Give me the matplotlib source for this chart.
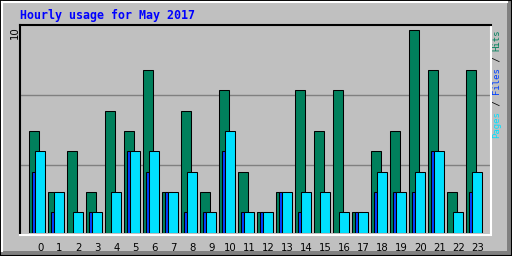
import matplotlib
matplotlib.use("Agg")
import matplotlib.pyplot as plt
from matplotlib.patches import Rectangle
from matplotlib.lines import Line2D

# ── data ──
hours = list(range(24))
hits = [5, 2, 4, 2, 6, 5, 8, 2, 6, 2, 7, 3, 1, 2, 7, 5, 7, 1, 4, 5, 10, 8, 2, 8]
files = [3, 1, 0, 1, 0, 4, 3, 2, 1, 1, 4, 1, 1, 2, 1, 0, 0, 1, 2, 2, 2, 4, 0, 2]
pages = [4, 2, 1, 1, 2, 4, 4, 2, 3, 1, 5, 1, 1, 2, 2, 2, 1, 1, 3, 2, 3, 4, 1, 3]
title = "Hourly usage for May 2017"
ymax_label = "10"

W, H = 512, 256
BG = "#C0C0C0"
C_HITS, C_FILES, C_PAGES = "#00805C", "#0040FF", "#00E0FF"


def fx(px):
    return px / W


def fy(py):
    return 1 - py / H


fig = plt.figure(figsize=(W / 100, H / 100), dpi=100, facecolor=BG)

# 3D style frame around the image
fig.add_artist(Rectangle((fx(507), 0), fx(5), 1, transform=fig.transFigure,
                         facecolor="#808080", edgecolor="none", zorder=-1))
fig.add_artist(Rectangle((0, 0), 1, fy(251), transform=fig.transFigure,
                         facecolor="#808080", edgecolor="none", zorder=-1))
fig.add_artist(Line2D([fx(1.5), fx(507)], [fy(1.5), fy(1.5)], color="white", lw=1.5))
fig.add_artist(Line2D([fx(1.5), fx(1.5)], [fy(1.5), fy(251)], color="white", lw=1.5))
fig.add_artist(Rectangle((0, 0), 1, 1, transform=fig.transFigure,
                         fill=False, edgecolor="black", linewidth=1.5))

# plot area in pixels: x 20..491, y 25..232.5
left, right, top, base = 20, 491, 25, 232.5
ax = fig.add_axes([fx(left), fy(base), fx(right - left), (base - top) / H])
ax.set_facecolor(BG)

unit = 20.3   # pixels per hit
slot = 19.0   # pixels per hour
x0 = 29       # left of hour-0 bar
ax.set_xlim((left - x0) / slot, (right - x0) / slot)
ax.set_ylim(0, (base - top) / unit)

for g in (95, 165):
    ax.axhline((base - g) / unit, color="#808080", lw=1, zorder=0)

lw = 0.75
ax.bar(hours, hits, width=10 / slot, align="edge", color=C_HITS,
       edgecolor="black", linewidth=lw, zorder=2)
ax.bar([h + 3 / slot for h in hours], files, width=3.3 / slot, align="edge",
       color=C_FILES, edgecolor="black", linewidth=lw, zorder=3)
ax.bar([h + 6.3 / slot for h in hours], pages, width=10 / slot, align="edge",
       color=C_PAGES, edgecolor="black", linewidth=lw, zorder=4)

ax.set_xticks([h + 11.5 / slot for h in hours])
ax.set_xticklabels([str(h) for h in hours])
ax.tick_params(axis="x", length=0, pad=6, labelsize=7.3)
ax.set_yticks([])

ax.spines["left"].set_color("black")
ax.spines["top"].set_color("black")
ax.spines["right"].set_color("white")
ax.spines["bottom"].set_color("white")
for s in ax.spines.values():
    s.set_linewidth(1.5)
ax.spines["bottom"].set_position(("outward", 1.5))

# title
fig.text(fx(20), fy(15.5), title, color="#0000FF", fontsize=8.4,
         family="DejaVu Sans Mono", fontweight="bold", va="center", ha="left")

# max value label
fig.text(fx(14.5), fy(32.5), ymax_label, rotation=90, fontsize=7.3,
         family="DejaVu Sans", va="center", ha="center", color="black")

# right legend label: Pages / Files / Hits (bottom to top)
parts = [("Pages", C_PAGES), (" / ", "black"), ("Files", C_FILES),
         (" / ", "black"), ("Hits", C_HITS)]
ypos = 138
char_px = 5.45
for txt, col in parts:
    fig.text(fx(497), fy(ypos), txt, rotation=90, color=col, fontsize=6.5,
             family="DejaVu Sans Mono", ha="center", va="bottom")
    ypos -= char_px * len(txt)

fig.savefig("out.png", dpi=100, facecolor=BG)
